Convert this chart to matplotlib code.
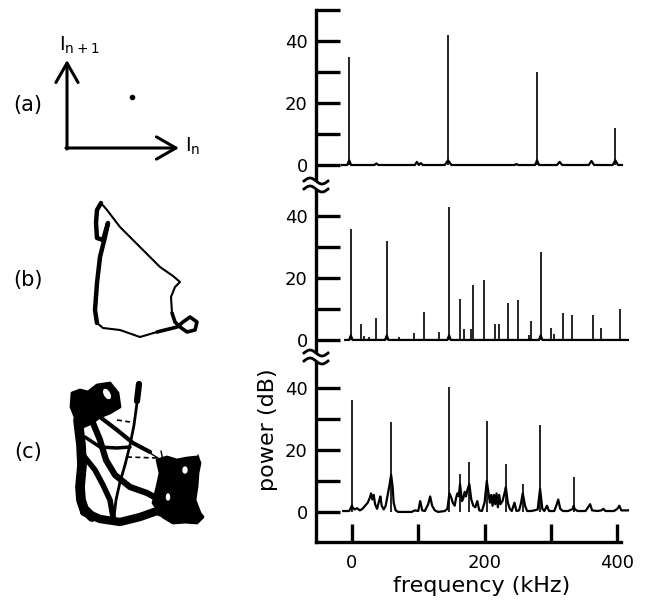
import numpy as np
import matplotlib.pyplot as plt
from matplotlib.patches import Polygon, Ellipse

W, H = 645, 604

# ---- spectra (frequency in kHz, power in dB) ----
# (a) periodic: spikes + traced baseline
top_peak_f = [-4, 145, 279, 397]
top_peak_db = [35, 42, 30, 12]
top_base_f = [-15, -7, -4, -1, 20, 34, 37, 40, 95, 98, 101, 104, 107, 110, 140, 145, 150,
              200, 245, 248, 251, 276, 279, 282, 309, 313, 317, 357, 361, 365, 393, 397, 401, 407]
top_base_db = [0, 0, 1.5, 0, 0, 0, 0.5, 0, 0, 1, 0, 0.6, 0, 0, 0, 1.5, 0,
               0, 0, 0.3, 0, 0, 1.5, 0, 0, 1, 0, 0, 1.3, 0, 0, 1.5, 0, 0]

# (b) quasiperiodic
mid_peak_f = [-1.5, 14, 18.5, 26, 37, 52.7, 71, 93, 108, 131, 146.5, 163, 169, 179, 182.7,
              199, 216, 221, 235.5, 251, 266.5, 270.5, 284.6, 299.7, 304.7, 317.7, 331.8, 362.9, 375, 404]
mid_peak_db = [35.7, 5.3, 1.2, 1, 7, 31.9, 1, 2.3, 9.1, 2.5, 42.8, 13.2, 3.5, 3.6, 17.8,
               19.4, 5.3, 5.3, 11.9, 13, 1.7, 6.2, 28.4, 4, 1.8, 8.7, 8, 8.1, 3.75, 10]
mid_base_f = [-10, -4, -1.5, 1, 50, 52.7, 55, 144, 146.5, 149, 282, 284.6, 287, 416]
mid_base_db = [0, 0, 1.5, 0, 0, 1.5, 0, 0, 1.5, 0, 0, 1.5, 0, 0]

# (c) chaotic
bot_peak_f = [0, 59.2, 147, 163, 177, 203.3, 232, 257.5, 283.6, 334.3]
bot_peak_db = [36, 29, 40.2, 12.1, 16.1, 29.4, 15.4, 8.9, 28.1, 11.2]
bot_base_f = [-13, -4, -1, 0, 1, 4, 8, 12, 16, 20,
              24, 27, 29, 31, 33, 35, 38, 41, 43, 45,
              48, 51, 54, 57, 59.2, 61.5, 63, 66, 70, 90,
              95, 100, 103, 106, 110, 115, 118, 121, 125, 130,
              140, 144, 147, 150, 152, 155, 157, 159, 161, 163,
              166, 168, 170, 172, 174, 177, 180, 183, 186, 189,
              192, 196, 200, 203.3, 206, 208, 210, 212, 214, 216,
              218, 220, 222, 224, 227, 230, 232, 235, 238, 241,
              245, 248, 252, 255, 257.5, 261, 264, 270, 275, 280,
              283.6, 287, 290, 294, 297, 305, 308, 311, 314, 318,
              326, 333, 334.3, 335.5, 340, 352, 356, 359, 362, 370,
              376, 379, 382, 395, 400, 403, 406, 412, 416]
bot_base_db = [0.3, 0.3, 1.5, 2, 1.5, 0.8, 1.2, 0.5, 1.0, 2.0,
               3.0, 4.5, 6.0, 4.0, 5.5, 2.5, 1.0, 3.5, 5.0, 2.0,
               0.8, 2.0, 5.5, 9, 12, 8, 3, 0.5, 0, 0,
               0.5, 0.3, 3.5, 0.5, 0.3, 2.5, 5.0, 2.0, 0.5, 0,
               0.3, 1.0, 6, 4.5, 3, 2.0, 4.5, 6, 5, 9,
               3.5, 4.5, 6.5, 5, 7, 9, 4, 2, 1.5, 3.5,
               0.5, 0.3, 3, 10, 6, 3, 5.5, 2, 5.5, 2.5,
               6, 1.5, 5.5, 2.5, 3.5, 6, 8, 3, 1, 0.3,
               3, 0.3, 0.5, 3, 6, 2, 0.3, 0.3, 0.5, 0.8,
               7.5, 1, 0.3, 2, 0.3, 0.3, 2, 4, 1, 0.3,
               0.3, 1, 2, 1, 0.3, 0.3, 1.5, 2.5, 0.5, 0.3,
               0.5, 1, 0.3, 0.3, 1, 2, 0.5, 0.5, 0.5]

# ---- return maps I(n+1) vs I(n), traced sketch coordinates (pixels) ----
map_a_point = (132, 97)
loop_b_x = [101, 97, 96, 97, 103, 108, 105, 100, 97, 95, 97, 103, 120, 140, 157, 177, 183,
            190, 197, 195, 187, 180, 175, 172, 171, 175, 180, 173, 160, 140, 120, 107, 101]
loop_b_y = [203, 210, 223, 238, 240, 223, 237, 257, 283, 310, 323, 328, 330, 337, 332, 327, 322,
            317, 322, 330, 332, 327, 322, 313, 297, 287, 282, 276, 267, 247, 227, 210, 203]
blob_c_x = [72, 80, 88, 97, 110, 118, 120, 110, 100, 92, 83, 77, 71]
blob_c_y = [393, 390, 392, 385, 383, 393, 407, 413, 417, 423, 427, 422, 407]
rblob_c_x = [157, 167, 177, 187, 197, 200, 198, 197, 195, 200, 203, 197, 187, 173, 163, 153, 157, 160]
rblob_c_y = [460, 457, 460, 458, 457, 463, 473, 487, 500, 513, 517, 523, 522, 523, 517, 503, 487, 473]
strands_c = [  # (x list, y list, width)
    ([78, 81, 82, 80, 81, 84, 92], [420, 445, 465, 487, 500, 509, 517], 7),
    ([84, 100, 120, 140, 157, 173, 193], [512, 519, 522, 517, 511, 517, 520], 6),
    ([93, 100, 106, 115, 130, 147, 160], [423, 440, 460, 475, 487, 493, 500], 4.5),
    ([83, 95, 103, 110, 113], [455, 470, 485, 500, 517], 4),
    ([100, 117, 133, 150], [417, 430, 443, 452], 3),
    ([85, 100, 117, 130], [437, 447, 448, 447], 2.5),
    ([139, 137, 134, 130, 125, 120, 116, 114], [383, 403, 425, 445, 465, 482, 500, 517], 2),
    ([139, 137], [384, 401], 4.5),
    ([145, 158], [450, 458], 1),
    ([161, 163], [451, 460], 1),
    ([198, 200], [455, 462], 1),
]
dash_c = [([127, 157], [457, 458]), ([117, 130], [420, 422])]

fig = plt.figure(figsize=(W / 100, H / 100), dpi=100)

# ---- three stacked spectra sharing one broken power axis ----
x_left, x_right = 316, 630.6
panels = [
    (10, 185, -6.45, top_peak_f, top_peak_db, top_base_f, top_base_db),
    (185, 357, -5.5, mid_peak_f, mid_peak_db, mid_base_f, mid_base_db),
    (357, 542, -9.7, bot_peak_f, bot_peak_db, bot_base_f, bot_base_db),
]
for i, (ytop, ybot, ylo, pf, pdb, bf, bdb) in enumerate(panels):
    ax = fig.add_axes([x_left / W, 1 - ybot / H, (x_right - x_left) / W, (ybot - ytop) / H])
    ax.patch.set_alpha(0)
    ax.set_xlim(-54, 420)
    ax.set_ylim(ylo, 50)
    ax.plot(bf, bdb, color='black', lw=1.6, solid_joinstyle='round')
    ax.vlines(pf, 0, pdb, color='black', lw=1.2)
    for s in ['top', 'right']:
        ax.spines[s].set_visible(False)
    ax.spines['left'].set_linewidth(2.4)
    ax.set_yticks([0, 20, 40])
    ax.set_yticks([10, 30, 50] if i == 0 else [10, 30], minor=True)
    ax.tick_params(axis='y', which='both', direction='in', length=17, width=2.4, labelsize=13, pad=6)
    if i < 2:
        ax.spines['bottom'].set_visible(False)
        ax.set_xticks([])
    else:
        ax.spines['bottom'].set_linewidth(2.4)
        ax.spines['bottom'].set_bounds(-54, 405)
        ax.set_xticks([0, 200, 400])
        ax.set_xticks([100, 300], minor=True)
        ax.tick_params(axis='x', which='both', direction='in', length=13, width=2.4, labelsize=13, pad=9)

fig.text(482 / W, 1 - 592 / H, 'frequency (kHz)', fontsize=16, ha='center', va='baseline')
fig.text(268 / W, 1 - 430 / H, 'power (dB)', fontsize=16, ha='center', va='center', rotation=90)

# ---- overlay in pixel coordinates: return maps, labels, axis breaks ----
ov = fig.add_axes([0, 0, 1, 1])
ov.set_xlim(0, W)
ov.set_ylim(H, 0)
ov.set_axis_off()

# (a)
ov.annotate('', xy=(67, 60), xytext=(67, 149),
            arrowprops=dict(arrowstyle='->, head_length=0.7, head_width=0.4', lw=2.2, color='black',
                            shrinkA=0, shrinkB=0, mutation_scale=20))
ov.annotate('', xy=(179, 148), xytext=(66, 148),
            arrowprops=dict(arrowstyle='->, head_length=0.7, head_width=0.4', lw=2.2, color='black',
                            shrinkA=0, shrinkB=0, mutation_scale=20))
ov.plot(*map_a_point, 'o', color='black', ms=3)
ov.text(59, 51, r'I$_{\mathrm{n+1}}$', fontsize=14, va='baseline')
ov.text(185, 152, r'I$_{\mathrm{n}}$', fontsize=14, va='baseline')

# (b)
ov.plot(loop_b_x, loop_b_y, color='black', lw=1.5, solid_joinstyle='round')
ov.plot(loop_b_x[:11], loop_b_y[:11], color='black', lw=3.2, solid_capstyle='round', solid_joinstyle='round')
ov.plot(loop_b_x[14:24], loop_b_y[14:24], color='black', lw=2.6, solid_capstyle='round', solid_joinstyle='round')

# (c)
ov.add_patch(Polygon(list(zip(blob_c_x, blob_c_y)), closed=True, color='black', lw=2, joinstyle='round'))
ov.add_patch(Ellipse((107, 394), 5, 10, angle=-30, color='white'))
ov.add_patch(Polygon(list(zip(rblob_c_x, rblob_c_y)), closed=True, color='black', lw=2, joinstyle='round'))
ov.add_patch(Ellipse((185, 470), 4, 6, color='white'))
ov.add_patch(Ellipse((168, 497), 3, 6, color='white'))
for sx, sy, w in strands_c:
    ov.plot(sx, sy, color='black', lw=w, solid_capstyle='round', solid_joinstyle='round')
for sx, sy in dash_c:
    ov.plot(sx, sy, color='black', lw=1.2, ls=(0, (3, 2)))

# panel labels
for lab, yc in [('(a)', 105), ('(b)', 280), ('(c)', 452)]:
    ov.text(28, yc, lab, fontsize=15, ha='center', va='center')

# axis break marks on the power axis
t = np.linspace(-1, 1, 40)
for yc in [185, 357]:
    bx = 316 + 12 * t
    y1 = yc - 4 + 3 * np.sin(np.pi * t)
    y2 = yc + 4 + 3 * np.sin(np.pi * t)
    ov.fill_between(bx, y1, y2, color='white', lw=0)
    ov.plot(bx, y1, color='black', lw=2)
    ov.plot(bx, y2, color='black', lw=2)

fig.savefig('out.png', dpi=100)
